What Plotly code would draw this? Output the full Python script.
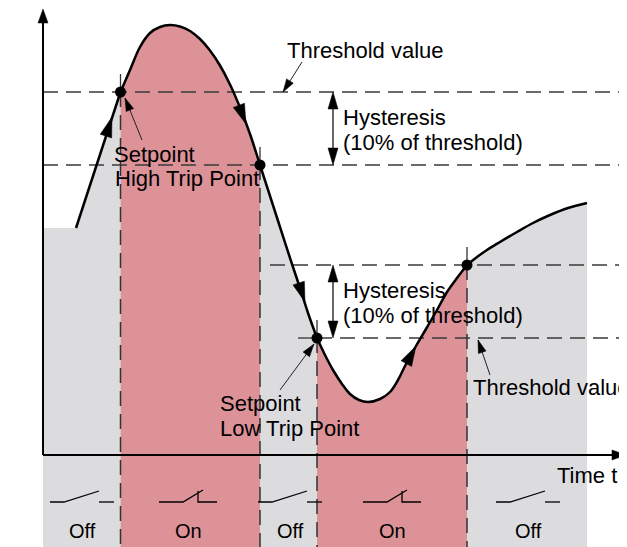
import math
import plotly.graph_objects as go

# ---------------- data (time t, measured value) ----------------
t_curve = [33, 77.5, 87, 97, 107, 117, 127, 137, 147, 157, 167, 177, 187, 197, 207, 217,
           227, 237, 247, 257, 265, 274,
           282, 290, 299, 307, 316, 325, 337, 347, 355, 362, 373, 383, 394, 404, 414, 424,
           434, 444, 457, 474, 490, 507, 525, 544]
v_curve = [227, 363, 385, 408, 422, 428, 430, 428.5, 424, 416, 404.5, 389.5, 370.5, 347.5, 321, 290,
           259, 228, 197, 167, 142, 117,
           100, 85, 71, 61, 55, 53, 56, 63, 75, 89, 109, 126, 145, 163, 177, 190,
           198, 205, 213, 223, 232, 240, 247, 252]
v_start = 227                      # initial level before the ramp
trip_index = [1, 15, 21, 37]       # high trip, high release, low trip, low release
state_colors = ["gray", "pink", "gray", "pink", "gray"]

high_threshold = 363
high_release = 290
low_release = 190
low_threshold = 117

switch_t = [39, 145, 247, 349, 485]
switch_state = ["Off", "On", "Off", "On", "Off"]

# direction arrows on the curve (tail -> tip)
dir_tail_t = [62, 195, 255, 362]
dir_tail_v = [316, 352, 174, 89]
dir_tip_t = [69, 203, 262, 373]
dir_tip_v = [338, 331, 153, 109]

# the page adds an 8px body margin, so the figure is 8px smaller and the ranges shifted
T_MIN, T_MAX = -35, 584
V_MIN, V_MAX = -92, 447

PINK = "rgb(221,146,152)"
GRAY = "rgb(220,220,223)"
FONT = "Arial, Liberation Sans, sans-serif"

fig = go.Figure()


def fill_segment(ts, vs, color, shape):
    fig.add_trace(go.Scatter(x=[ts[0], ts[-1]], y=[V_MIN, V_MIN], mode="lines",
                             line=dict(width=0), hoverinfo="skip"))
    fig.add_trace(go.Scatter(x=ts, y=vs, mode="lines", fill="tonexty",
                             fillcolor=color, line=dict(width=0, shape=shape),
                             hoverinfo="skip"))


def head(x0, y0, x1, y1, length, half_w, color="black"):
    """filled arrow head with its tip at (x1, y1), pointing from (x0, y0)."""
    dx, dy = x1 - x0, y1 - y0
    n = math.hypot(dx, dy)
    ux, uy = dx / n, dy / n
    bx, by = x1 - ux * length, y1 - uy * length
    px, py = -uy * half_w, ux * half_w
    fig.add_trace(go.Scatter(x=[x1, bx + px, bx - px, x1], y=[y1, by + py, by - py, y1],
                             mode="lines", fill="toself", fillcolor=color,
                             line=dict(color=color, width=0.5), hoverinfo="skip"))


# initial gray part (flat + ramp)
fill_segment([0, t_curve[0], t_curve[1]], [v_start, v_start, v_curve[1]], GRAY, "linear")
bounds = trip_index + [len(t_curve) - 1]
segs = []
for k in range(len(bounds) - 1):
    a, b = bounds[k], bounds[k + 1]
    segs.append((t_curve[a:b + 1], v_curve[a:b + 1]))
    col = PINK if state_colors[k + 1] == "pink" else GRAY
    fill_segment(t_curve[a:b + 1], v_curve[a:b + 1], col, "spline")

# ---------------- dashed reference lines ----------------
HD = dict(color="#3a3a3a", width=1.3, dash="15px,8px")
VD = dict(color="#333", width=1.5, dash="15px,8px")
for y, x0 in [(high_threshold, 0), (high_release, 0), (low_release, 227), (low_threshold, 274)]:
    fig.add_trace(go.Scatter(x=[x0, T_MAX], y=[y, y], mode="lines", line=HD, hoverinfo="skip"))
trip_t = [t_curve[i] for i in trip_index]
trip_v = [v_curve[i] for i in trip_index]
for tt, vv in zip(trip_t, trip_v):
    fig.add_trace(go.Scatter(x=[tt, tt], y=[vv, V_MIN], mode="lines", line=VD, hoverinfo="skip"))
    fig.add_trace(go.Scatter(x=[tt, tt], y=[vv, vv + 18], mode="lines",
                             line=dict(color="#333", width=1.3), hoverinfo="skip"))
fig.add_trace(go.Scatter(x=[trip_t[2] - 19, trip_t[2]], y=[trip_v[2], trip_v[2]], mode="lines",
                         line=dict(color="#333", width=1.3), hoverinfo="skip"))

# ---------------- axes ----------------
AX = dict(color="black", width=2)
fig.add_trace(go.Scatter(x=[0, 0], y=[0, 436], mode="lines", line=AX, hoverinfo="skip"))
head(0, 0, 0, 446, 14, 5)
fig.add_trace(go.Scatter(x=[0, 572], y=[0, 0], mode="lines", line=AX, hoverinfo="skip"))
head(0, 0, 583, 0, 14, 5)

# ---------------- the process curve ----------------
fig.add_trace(go.Scatter(x=t_curve[0:2], y=v_curve[0:2], mode="lines",
                         line=dict(color="black", width=2.5), hoverinfo="skip"))
for ts, vs in segs:
    fig.add_trace(go.Scatter(x=ts, y=vs, mode="lines",
                             line=dict(color="black", width=2.5, shape="spline"), hoverinfo="skip"))
fig.add_trace(go.Scatter(x=trip_t, y=trip_v, mode="markers",
                         marker=dict(color="black", size=11), hoverinfo="skip"))
for a, b, c, d in zip(dir_tail_t, dir_tail_v, dir_tip_t, dir_tip_v):
    head(a, b, c, d, 20, 6)


# ---------------- pointers & hysteresis arrows ----------------
def pointer(x0, y0, x1, y1):
    fig.add_trace(go.Scatter(x=[x0, x1], y=[y0, y1], mode="lines",
                             line=dict(color="#222", width=1), hoverinfo="skip"))
    head(x0, y0, x1, y1, 13, 4)


pointer(259, 393, 240, high_threshold)
pointer(99, 315, 82, 357)
pointer(237, 65, 271, 111)
pointer(447, 80, 435, 115)


def double_arrow(x, y_top, y_bot):
    fig.add_trace(go.Scatter(x=[x, x], y=[y_top - 10, y_bot + 10], mode="lines",
                             line=dict(color="black", width=1.2), hoverinfo="skip"))
    head(x, y_bot, x, y_top, 17, 5)
    head(x, y_top, x, y_bot, 17, 5)


double_arrow(290, high_threshold, high_release)
double_arrow(290, low_release, low_threshold)

# ---------------- switch symbols ----------------
sx, sy = [], []
y0 = -47
for c, s in zip(switch_t, switch_state):
    if s == "Off":
        pts = [[(c - 32, y0), (c - 18, y0), (c + 17, y0 + 11)], [(c + 17, y0), (c + 32, y0)]]
    else:
        pts = [[(c - 29, y0), (c - 5, y0), (c + 15, y0 + 12)],
               [(c + 10, y0 + 11), (c + 10, y0), (c + 29, y0)]]
    for p in pts:
        for (px, py) in p:
            sx.append(px)
            sy.append(py)
        sx.append(None)
        sy.append(None)
fig.add_trace(go.Scatter(x=sx, y=sy, mode="lines", line=dict(color="black", width=1.3),
                         hoverinfo="skip"))

# ---------------- texts ----------------
texts = [
    ("Threshold value", 242, 405),
    ("Hysteresis", 298, 338),
    ("(10% of threshold)", 298, 313),
    ("Hysteresis", 298, 165),
    ("(10% of threshold)", 298, 140),
    ("Setpoint", 69, 301),
    ("High Trip Point", 70, 277),
    ("Setpoint", 175, 52),
    ("Low Trip Point", 175, 27),
    ("Threshold value", 428, 68),
    ("Time t", 512, -20),
    ("(Actual temp)", -30, 465),
]
for txt, x, y in texts:
    fig.add_annotation(x=x, y=y, text=txt, showarrow=False, xanchor="left", yanchor="middle",
                       font=dict(family=FONT, size=22, color="black"))
for c, s in zip(switch_t, switch_state):
    fig.add_annotation(x=c, y=-76, text=s, showarrow=False, xanchor="center", yanchor="middle",
                       font=dict(family=FONT, size=20, color="black"))

fig.update_layout(
    width=619, height=539, margin=dict(l=0, r=0, t=0, b=0),
    showlegend=False, plot_bgcolor="white", paper_bgcolor="white",
    xaxis=dict(range=[T_MIN, T_MAX], visible=False, fixedrange=True),
    yaxis=dict(range=[V_MIN, V_MAX], visible=False, fixedrange=True),
)
fig.write_html("out.html")
